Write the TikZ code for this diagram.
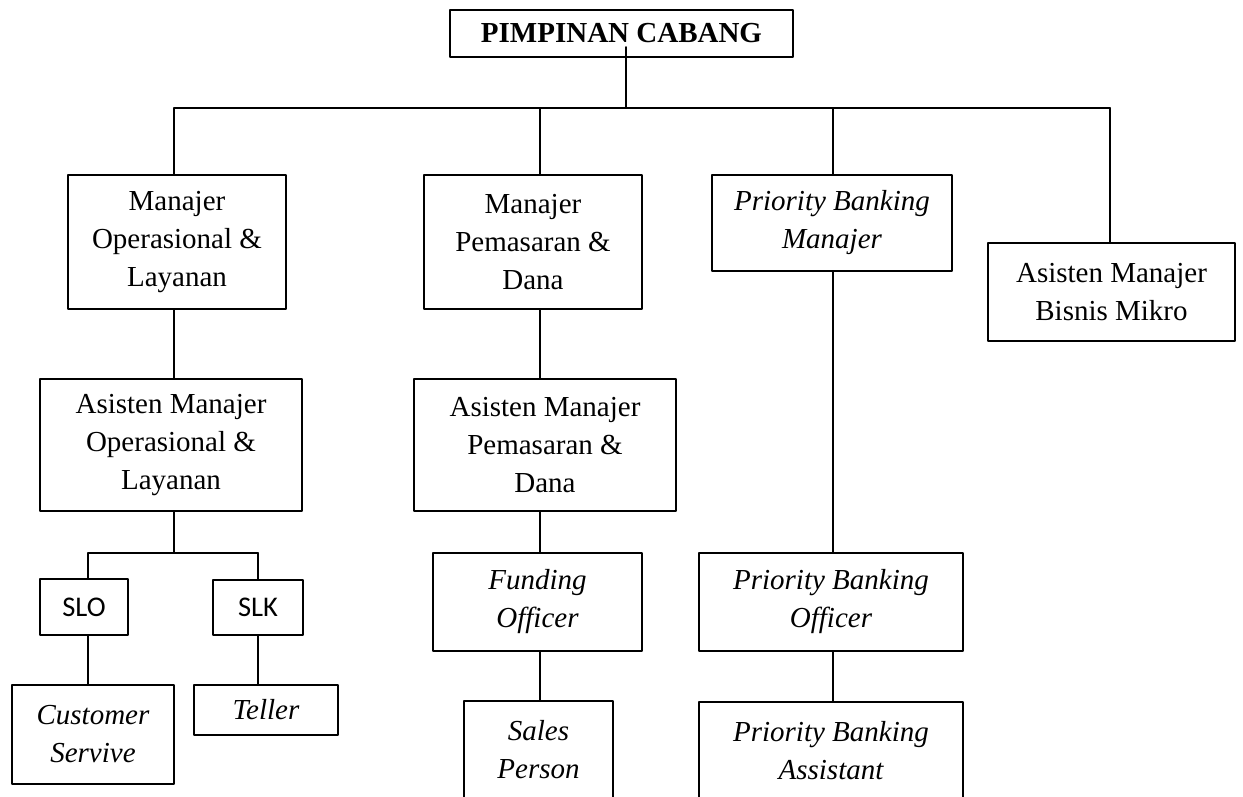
\documentclass[tikz,border=0pt]{standalone}
\usepackage{fontspec}
\setmainfont{Liberation Serif}
\newfontfamily\calibri{Carlito}

\begin{document}
\begin{tikzpicture}[line cap=round,line join=round,x=1pt,y=-1pt,
	kotak/.style={draw,line width=1.6pt,inner sep=0pt,align=center,font=\fontsize{29}{38}\selectfont},
	miring/.style={kotak,font=\itshape\fontsize{29}{38}\selectfont},
	kecil/.style={kotak,font=\calibri\fontsize{28.5}{32}\selectfont},
	garis/.style={line width=1.6pt}]
		\useasboundingbox (0,0) rectangle (1243,796);
		%Pimpinan
		\node[kotak,minimum width=343pt,minimum height=47pt,font=\bfseries\fontsize{29}{38}\selectfont] (pc) at (621.5,33.5) {PIMPINAN CABANG};
		\coordinate (p0) at (626,47);
		\coordinate (p1) at (626,108);
		\coordinate (k1) at (174,108);
		\coordinate (k2) at (540,108);
		\coordinate (k3) at (833,108);
		\coordinate (k4) at (1110,108);
		\draw[garis] (p0)--(p1);
		\draw[garis] (k1)--(k4);
		%Kolom 1
		\node[kotak,minimum width=218pt,minimum height=134pt] (mol) at (177,242) {Manajer\\Operasional \&\\Layanan};
		\node[kotak,minimum width=262pt,minimum height=132pt] (amol) at (171,445) {Asisten Manajer\\Operasional \&\\Layanan};
		\draw[garis] (k1)--(k1 |- mol.north);
		\draw[garis] (k1 |- mol.south)--(k1 |- amol.north);
		\coordinate (s0) at (174,553);
		\coordinate (s1) at (88,553);
		\coordinate (s2) at (258,553);
		\draw[garis] (k1 |- amol.south)--(s0);
		\draw[garis] (s1)--(s2);
		\node[kecil,minimum width=88pt,minimum height=56pt] (slo) at (84,607) {SLO};
		\node[kecil,minimum width=90pt,minimum height=55pt] (slk) at (258,607.5) {SLK};
		\draw[garis] (s1)--(s1 |- slo.north);
		\draw[garis] (s2)--(s2 |- slk.north);
		\node[miring,minimum width=162pt,minimum height=99pt] (cs) at (93,734.5) {Customer\\Servive};
		\node[miring,minimum width=144pt,minimum height=50pt] (tel) at (266,710) {Teller};
		\draw[garis] (s1 |- slo.south)--(s1 |- cs.north);
		\draw[garis] (s2 |- slk.south)--(s2 |- tel.north);
		%Kolom 2
		\node[kotak,minimum width=218pt,minimum height=134pt] (mpd) at (533,242) {Manajer\\Pemasaran \&\\Dana};
		\node[kotak,minimum width=262pt,minimum height=132pt] (ampd) at (545,445) {Asisten Manajer\\Pemasaran \&\\Dana};
		\node[miring,minimum width=209pt,minimum height=98pt] (fo) at (537.5,602) {Funding\\Officer};
		\node[miring,minimum width=149pt,minimum height=98pt] (sp) at (538.5,750) {Sales\\Person};
		\draw[garis] (k2)--(k2 |- mpd.north);
		\draw[garis] (k2 |- mpd.south)--(k2 |- ampd.north);
		\draw[garis] (k2 |- ampd.south)--(k2 |- fo.north);
		\draw[garis] (k2 |- fo.south)--(k2 |- sp.north);
		%Kolom 3
		\node[miring,minimum width=240pt,minimum height=96pt] (pbm) at (832,223) {Priority Banking\\Manajer};
		\node[miring,minimum width=264pt,minimum height=98pt] (pbo) at (831,602) {Priority Banking\\Officer};
		\node[miring,minimum width=264pt,minimum height=98pt] (pba) at (831,751) {Priority Banking\\Assistant};
		\draw[garis] (k3)--(k3 |- pbm.north);
		\draw[garis] (k3 |- pbm.south)--(k3 |- pbo.north);
		\draw[garis] (k3 |- pbo.south)--(k3 |- pba.north);
		%Kolom 4
		\node[kotak,minimum width=247pt,minimum height=98pt] (abm) at (1111.5,292) {Asisten Manajer\\Bisnis Mikro};
		\draw[garis] (k4)--(k4 |- abm.north);
		\end{tikzpicture}
\end{document}
